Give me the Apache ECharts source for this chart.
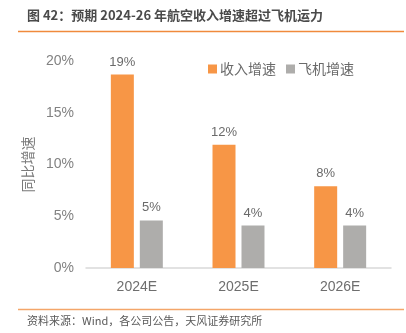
<!DOCTYPE html>
<html><head><meta charset="utf-8">
<script src="https://cdn.jsdelivr.net/npm/echarts@6/dist/echarts.min.js"></script>
<style>html,body{margin:0;padding:0;background:#fff}#c{width:406px;height:333px}</style>
</head><body><div id="c"></div>
<script>
var categories = ['2024E', '2025E', '2026E'];
var revenueGrowth = [18.7, 11.9, 7.9];
var revenueLabels = ['19%', '12%', '8%'];
var fleetGrowth = [4.6, 4.1, 4.1];
var fleetLabels = ['5%', '4%', '4%'];
var yTicks = [0, 5, 10, 15, 20];

var FONT = '"Liberation Sans Narrow","Liberation Sans","Noto Sans CJK SC",sans-serif';
var CJK = '"Noto Sans CJK SC",sans-serif';
var chart = echarts.init(document.getElementById('c'), null, {renderer: 'canvas'});
chart.setOption({
  animation: false,
  textStyle: {fontFamily: FONT},
  graphic: [
    {type: 'text', left: 27, top: 9, style: {text: '图 42：预期 2024-26 年航空收入增速超过飞机运力', font: 'bold 13px ' + CJK, fill: '#4a4a4a'}},
    {type: 'line', shape: {x1: 18, y1: 31.5, x2: 404, y2: 31.5}, style: {stroke: '#F08A3C', lineWidth: 1.5}},
    {type: 'line', shape: {x1: 18, y1: 309.5, x2: 404, y2: 309.5}, style: {stroke: '#F4A66A', lineWidth: 1.5}},
    {type: 'text', left: 27, top: 315, style: {text: '资料来源：Wind，各公司公告，天风证券研究所', font: '11px ' + CJK, fill: '#595959'}}
  ],
  legend: {
    top: 57, left: 203, itemWidth: 9, itemHeight: 9, itemGap: 10,
    icon: 'rect',
    textStyle: {fontFamily: CJK, fontSize: 14, color: '#6a6a6a', padding: [0, 0, 0, -2]},
    data: ['收入增速', '飞机增速']
  },
  grid: {left: 86, right: 15, top: 61, bottom: 65},
  xAxis: {
    type: 'category', data: categories,
    axisLine: {lineStyle: {color: '#D9D9D9', width: 1.5}},
    axisTick: {show: false},
    axisLabel: {color: '#6e6e6e', fontSize: 14, margin: 12, fontFamily: FONT}
  },
  yAxis: {
    type: 'value', min: yTicks[0], max: yTicks[yTicks.length - 1], interval: 5,
    name: '同比增速', nameLocation: 'middle', nameGap: 40, nameRotate: 90,
    nameTextStyle: {fontFamily: CJK, fontSize: 14, color: '#7a7a7a'},
    axisLine: {show: false}, axisTick: {show: false}, splitLine: {show: false},
    axisLabel: {color: '#828282', fontSize: 14, margin: 12, fontFamily: FONT, formatter: function (v) { return v + '%'; }}
  },
  series: [
    {
      name: '收入增速', type: 'bar', data: revenueGrowth, barWidth: 23, barGap: '26%',
      itemStyle: {color: '#F79646'},
      label: {show: true, position: 'top', distance: 6, fontSize: 13, color: '#6a6a6a', fontFamily: FONT,
        formatter: function (p) { return revenueLabels[p.dataIndex]; }}
    },
    {
      name: '飞机增速', type: 'bar', data: fleetGrowth, barWidth: 23,
      itemStyle: {color: '#AEADAB'},
      label: {show: true, position: 'top', distance: 6, fontSize: 13, color: '#6a6a6a', fontFamily: FONT,
        formatter: function (p) { return fleetLabels[p.dataIndex]; }}
    }
  ]
});
</script></body></html>
